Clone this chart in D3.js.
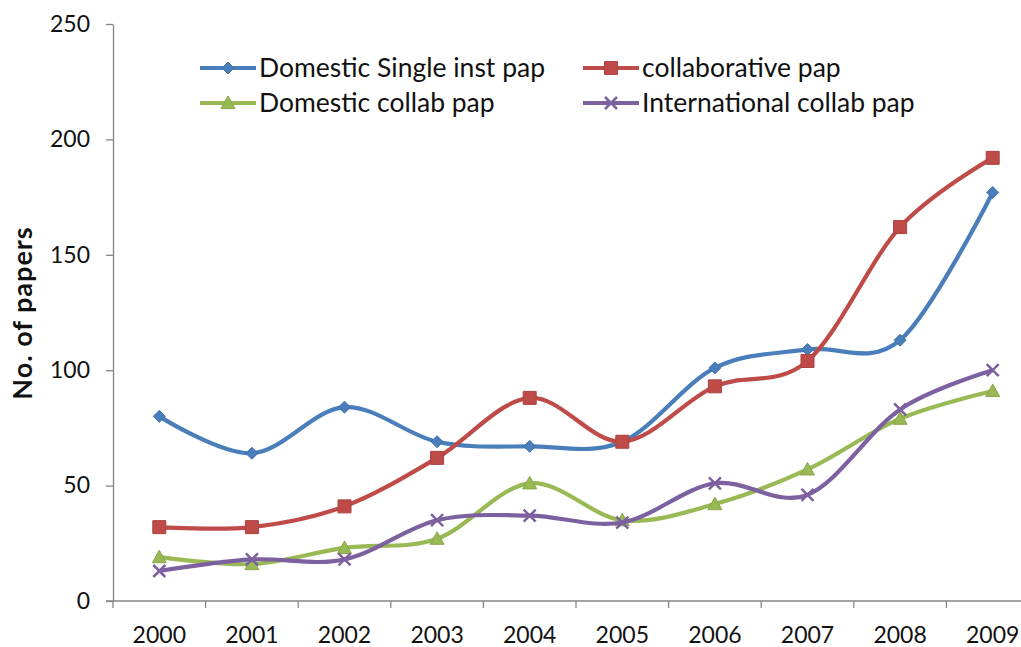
<!DOCTYPE html>
<html>
<head>
<meta charset="utf-8">
<script src="https://cdn.jsdelivr.net/npm/d3@7/dist/d3.min.js"></script>
<style>
  html, body { margin: 0; padding: 0; background: #ffffff; }
  svg { display: block; }
  text { font-family: Lato, "Open Sans", sans-serif; fill: #111; }
</style>
</head>
<body>
<svg id="chart" width="1021" height="647"></svg>
<script>
// Papers per year, 2000–2009
const years = ["2000", "2001", "2002", "2003", "2004", "2005", "2006", "2007", "2008", "2009"];
const domesticSingle = [80, 64, 84, 69, 67, 69, 101, 109, 113, 177];
const collaborative  = [32, 32, 41, 62, 88, 69, 93, 104, 162, 192];
const domesticCollab = [19, 16, 23, 27, 51, 35, 42, 57, 79, 91];
const international  = [13, 18, 18, 35, 37, 34, 51, 46, 83, 100];
const yTicks = [0, 50, 100, 150, 200, 250];

const seriesNames = ["Domestic Single inst pap", "collaborative pap", "Domestic collab pap", "International collab pap"];
const seriesColors = ["#4a7ebb", "#be4b48", "#98b954", "#7d60a0"];
const seriesMarkers = ["diamond", "square", "triangle", "cross"];
const seriesValues = [domesticSingle, collaborative, domesticCollab, international];

const series = seriesNames.map((name, i) => ({
  name, color: seriesColors[i], marker: seriesMarkers[i],
  values: years.map((y, j) => ({ year: y, value: seriesValues[i][j] }))
}));

const svg = d3.select("#chart");
const plotLeft = 113, plotRight = 1039, plotTop = 24, plotBottom = 601;

const xBand = d3.scaleBand().domain(years).range([plotLeft, plotRight]);
const x = d3.scalePoint().domain(years).range([plotLeft, plotRight]).padding(0.5);
const y = d3.scaleLinear().domain([0, 250]).range([plotBottom, plotTop]);

// Y axis
const yAxis = svg.append("g")
  .attr("transform", `translate(${plotLeft},0)`)
  .call(d3.axisLeft(y).tickValues(yTicks).tickSize(7).tickPadding(16).tickSizeOuter(0));
yAxis.select(".domain").attr("stroke", "#868686").attr("stroke-width", 1.3);
yAxis.selectAll(".tick line").attr("stroke", "#868686").attr("stroke-width", 1.3);
yAxis.selectAll(".tick text").attr("font-size", 23).attr("fill", "#111")
  .style("font-family", "Lato, sans-serif");

// X axis: boundary ticks between categories, labels at centres
const xAxis = svg.append("g").attr("transform", `translate(0,${plotBottom})`);
xAxis.append("line")
  .attr("x1", plotLeft - 7).attr("x2", plotRight)
  .attr("y1", 0).attr("y2", 0)
  .attr("stroke", "#868686").attr("stroke-width", 1.3);
xAxis.selectAll("line.bt")
  .data(years.concat(["end"]))
  .join("line")
  .attr("class", "bt")
  .attr("x1", d => d === "end" ? plotRight : xBand(d))
  .attr("x2", d => d === "end" ? plotRight : xBand(d))
  .attr("y1", 0).attr("y2", 7)
  .attr("stroke", "#868686").attr("stroke-width", 1.3);
xAxis.selectAll("text.xl")
  .data(years)
  .join("text")
  .attr("class", "xl")
  .attr("x", d => x(d))
  .attr("y", 42)
  .attr("text-anchor", "middle")
  .attr("font-size", 23)
  .text(d => d);

// Y axis title
svg.append("text")
  .attr("transform", `translate(32,313) rotate(-90)`)
  .attr("text-anchor", "middle")
  .attr("font-size", 27)
  .attr("font-weight", "bold")
  .attr("letter-spacing", 1)
  .text("No. of papers");

// Marker shapes
function markerPath(type, s) {
  switch (type) {
    case "diamond": return `M0,${-s}L${s},0L0,${s}L${-s},0Z`;
    case "square": return `M${-s},${-s}H${s}V${s}H${-s}Z`;
    case "triangle": return `M0,${-s}L${s},${s * 0.8}L${-s},${s * 0.8}Z`;
    case "cross": return `M${-s},${-s}L${s},${s}M${-s},${s}L${s},${-s}`;
  }
}
function drawMarker(g, type, color) {
  if (type === "cross") {
    g.append("path").attr("d", markerPath(type, 6))
      .attr("stroke", color).attr("stroke-width", 2.5).attr("fill", "none");
  } else {
    const s = type === "diamond" ? 6 : type === "square" ? 6.5 : 7;
    g.append("path").attr("d", markerPath(type, s)).attr("fill", color)
      .attr("stroke", d3.color(color).darker(0.3)).attr("stroke-width", 1);
  }
}

const line = d3.line()
  .x(d => x(d.year))
  .y(d => y(d.value))
  .curve(d3.curveCatmullRom.alpha(0));

const plot = svg.append("g");
series.forEach(s => {
  plot.append("path")
    .datum(s.values)
    .attr("d", line)
    .attr("fill", "none")
    .attr("stroke", s.color)
    .attr("stroke-width", 4.2)
    .attr("stroke-linejoin", "round");
  plot.selectAll(null)
    .data(s.values)
    .join("g")
    .attr("transform", d => `translate(${x(d.year)},${y(d.value)})`)
    .each(function () { drawMarker(d3.select(this), s.marker, s.color); });
});

// Legend: two columns, two rows
const legendPos = [[200, 68], [583, 68], [200, 103], [583, 103]];
series.forEach((s, i) => {
  const [lx, ly] = legendPos[i];
  const g = svg.append("g").attr("transform", `translate(${lx},${ly})`);
  g.append("line").attr("x1", 0).attr("x2", 56).attr("y1", 0).attr("y2", 0)
    .attr("stroke", s.color).attr("stroke-width", 4);
  const m = g.append("g").attr("transform", "translate(28,0)");
  drawMarker(m, s.marker, s.color);
  g.append("text").attr("x", 59).attr("y", 9)
    .attr("font-size", 26.5)
    .text(s.name);
});
</script>
</body>
</html>
